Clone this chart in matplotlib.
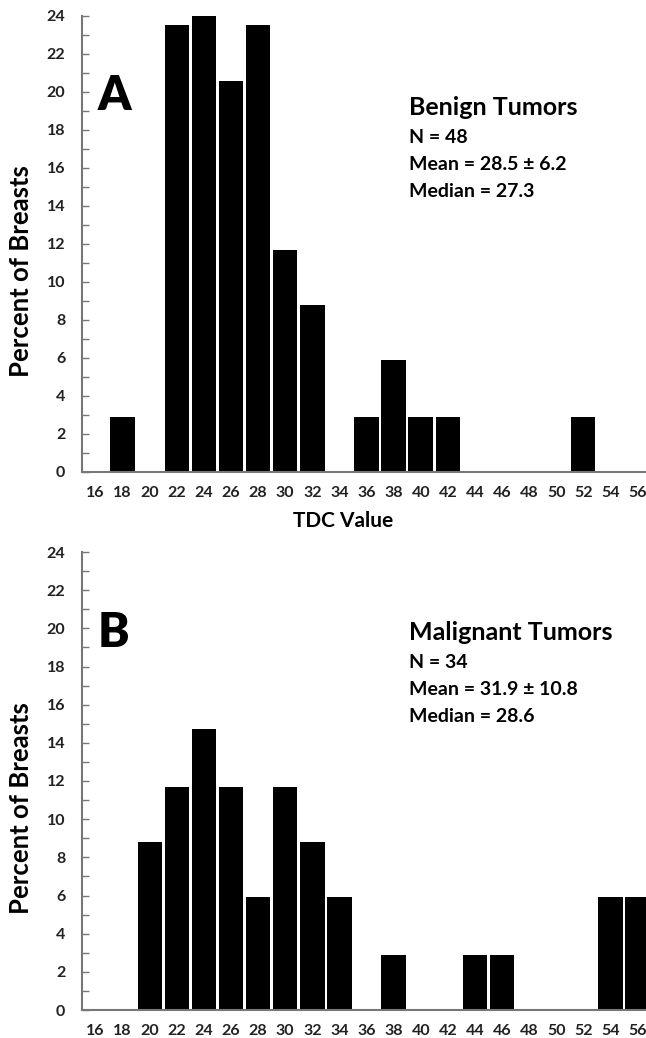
import matplotlib
matplotlib.use("Agg")
import matplotlib.pyplot as plt
import numpy as np

plt.rcParams['font.family'] = ['Lato', 'DejaVu Sans']

categories = [16, 18, 20, 22, 24, 26, 28, 30, 32, 34, 36, 38, 40, 42, 44, 46, 48, 50, 52, 54, 56]
benign_pct = [0, 2.9, 0, 23.5, 24.0, 20.6, 23.5, 11.7, 8.8, 0, 2.9, 5.9, 2.9, 2.9, 0, 0, 0, 0, 2.9, 0, 0]
malignant_pct = [0, 0, 8.8, 11.7, 14.7, 11.7, 5.9, 11.7, 8.8, 5.9, 0, 2.9, 0, 0, 2.9, 2.9, 0, 0, 0, 5.9, 5.9]
y_ticks = list(range(0, 25, 2))

panel_letters = ["A", "B"]
titles = ["Benign Tumors", "Malignant Tumors"]
stats = [["N = 48", "Mean = 28.5 \u00b1 6.2", "Median = 27.3"],
         ["N = 34", "Mean = 31.9 \u00b1 10.8", "Median = 28.6"]]

W, H = 646, 1038
fig = plt.figure(figsize=(W / 100, H / 100), dpi=100)

def fx(px):
    return px / W

def fy(py):
    return 1 - py / H

axes_px = [(82, 16, 651, 472), (82, 552, 651, 1010)]
series = [benign_pct, malignant_pct]
text_px = [dict(letter=(98, 110), title=(409, 115), lines=[143, 170, 197]),
           dict(letter=(98, 647), title=(409, 640), lines=[668, 695, 722])]

x = np.arange(len(categories))
for i, (l, t, r, b) in enumerate(axes_px):
    ax = fig.add_axes([fx(l), fy(b), (r - l) / W, (b - t) / H])
    ax.bar(x, series[i], width=0.9, color='black', edgecolor='none')
    ax.set_xlim(-0.5, len(categories) - 0.5)
    ax.set_ylim(0, 24)
    ax.set_xticks(x)
    ax.set_xticklabels([str(c) for c in categories], fontsize=11.5, fontweight='bold', color='#222222')
    ax.set_yticks(y_ticks)
    ax.set_yticklabels([str(v) for v in y_ticks], fontsize=11.5, fontweight='bold', color='#222222')
    ax.set_yticks(np.arange(1, 24, 2), minor=True)
    ax.tick_params(axis='x', length=0, pad=10)
    ax.tick_params(axis='y', which='both', direction='in', length=5, width=1, color='#777777', pad=12)
    for s in ['top', 'right']:
        ax.spines[s].set_visible(False)
    for s in ['left', 'bottom']:
        ax.spines[s].set_color('#777777')
        ax.spines[s].set_linewidth(1.5)
    ax.set_ylabel("Percent of Breasts", fontsize=18.5, fontweight='bold')
    ax.yaxis.set_label_coords(-0.086, 0.44)

    tp = text_px[i]
    fig.text(fx(tp['letter'][0]), fy(tp['letter'][1]), panel_letters[i], fontsize=34,
             fontweight='heavy', va='baseline', ha='left')
    fig.text(fx(tp['title'][0]), fy(tp['title'][1]), titles[i], fontsize=18,
             fontweight='bold', va='baseline', ha='left')
    for line, yb in zip(stats[i], tp['lines']):
        fig.text(fx(tp['title'][0]), fy(yb), line, fontsize=14,
                 fontweight='bold', va='baseline', ha='left')

fig.text(fx(343), fy(521), "TDC Value", fontsize=15, fontweight='bold', ha='center', va='center')

fig.savefig("out.png", dpi=100)
